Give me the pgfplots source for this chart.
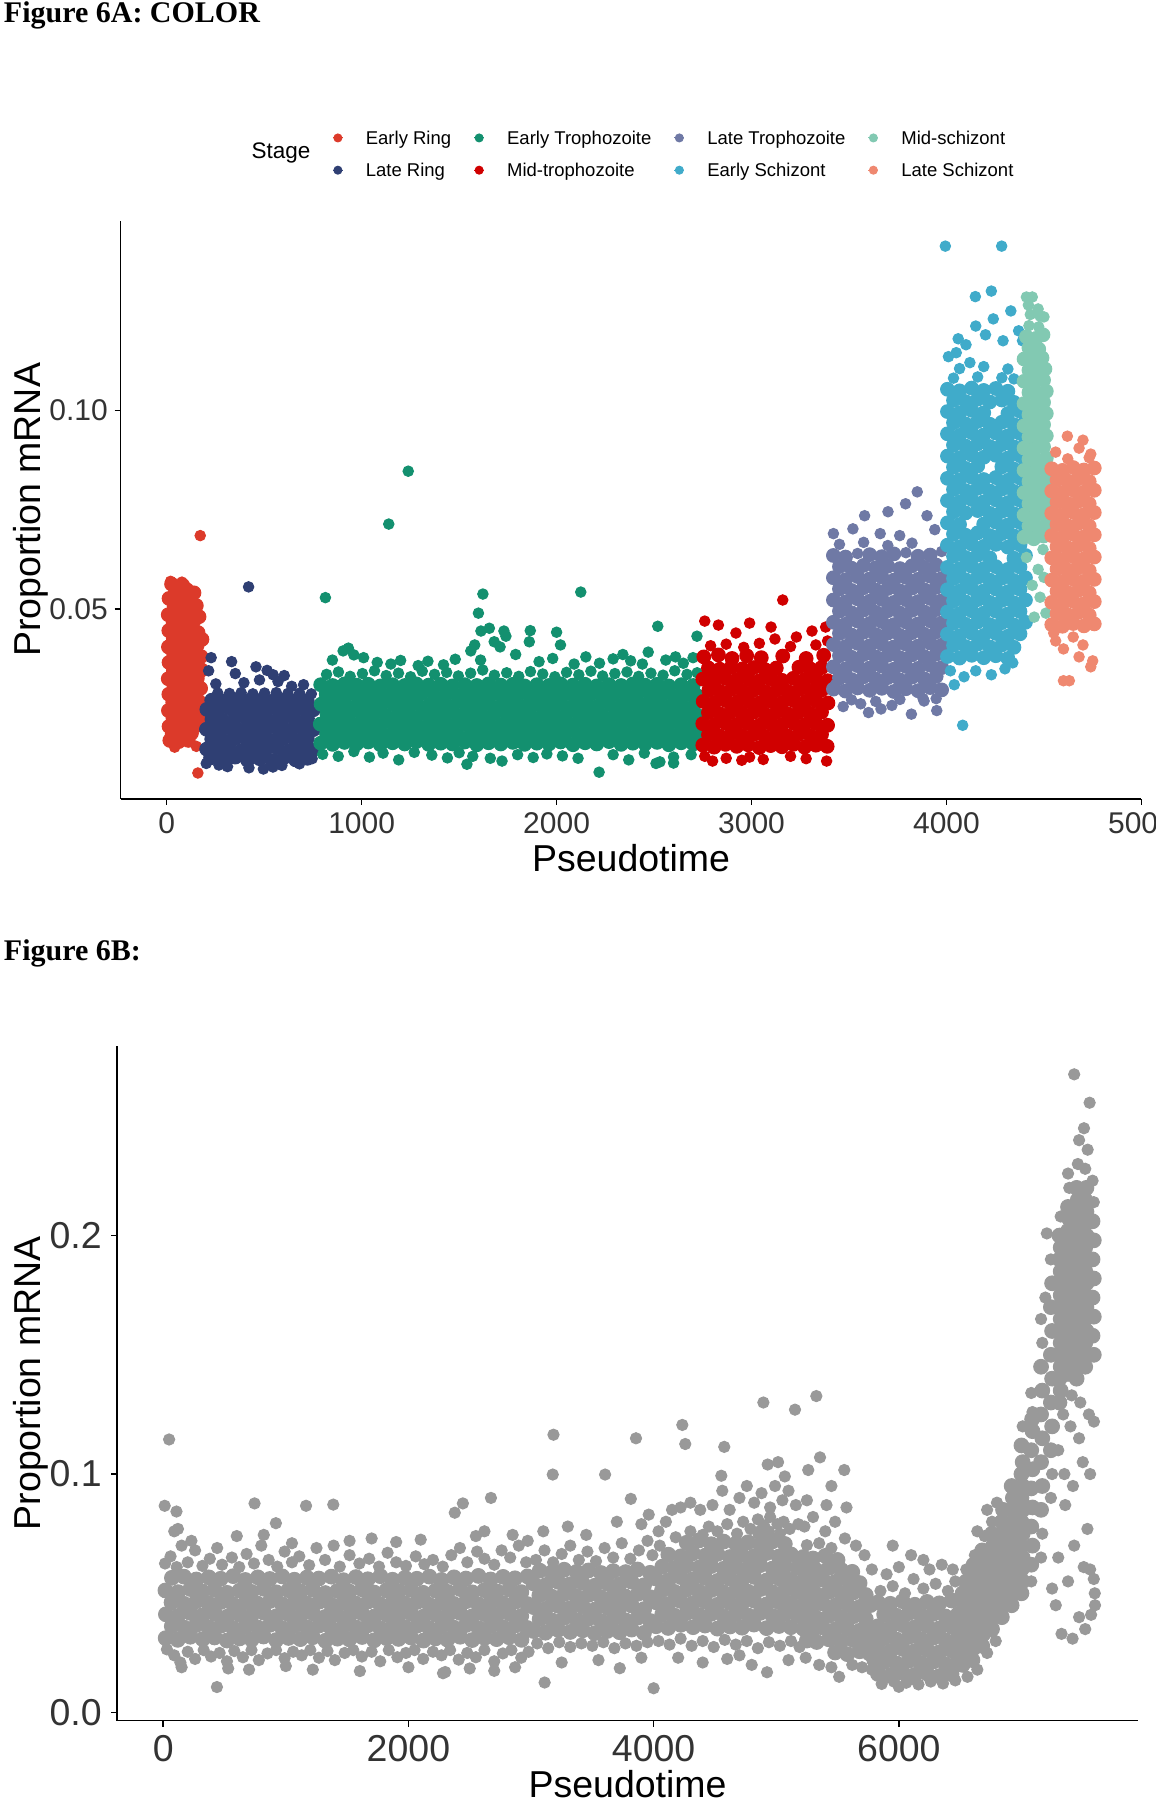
\documentclass[border=0pt]{standalone}
\usepackage{pgfplots}
\pgfplotsset{compat=1.18}
\usepackage{fontspec}
\setmainfont{Liberation Sans}
\newfontfamily\titlefont{Liberation Serif}
\definecolor{ER}{HTML}{DC3A2A}
\definecolor{LR}{HTML}{2F3F73}
\definecolor{ET}{HTML}{13906F}
\definecolor{MT}{HTML}{D00000}
\definecolor{LT}{HTML}{6F79A5}
\definecolor{ES}{HTML}{40ABCA}
\definecolor{MS}{HTML}{82C9B2}
\definecolor{LS}{HTML}{EF8870}
\definecolor{GR}{HTML}{999999}
\pgfplotsset{
  pt/.style={only marks, mark=*, mark size=2.1pt, color=#1, mark options={draw=none, fill=#1}, forget plot},
  core/.style={only marks, mark=*, mark size=2.75pt, color=#1, mark options={draw=none, fill=#1}, forget plot},
  ptb/.style={only marks, mark=*, mark size=2.25pt, color=#1, mark options={draw=none, fill=#1}, forget plot},
  coreb/.style={only marks, mark=*, mark size=2.95pt, color=#1, mark options={draw=none, fill=#1}, forget plot},
  ggaxis/.style={scale only axis, axis lines=left, axis line style={-, line width=0.6pt, black},
    tick style={black, line width=0.6pt}, tick align=outside, major tick length=2.4pt,
    xtick pos=bottom, ytick pos=left, clip=false,
    label style={font=\fontsize{15}{18}\selectfont}},
}
\begin{document}
\begin{tikzpicture}
\useasboundingbox (0,0) rectangle (462.3pt,720.36pt);
\clip (0,0) rectangle (462.3pt,720.36pt);
\node[anchor=base west, inner sep=0pt, font=\titlefont\bfseries\fontsize{12}{14}\selectfont] at (1.4pt,711.2pt) {Figure 6A: COLOR};
\node[anchor=base west, inner sep=0pt, font=\titlefont\bfseries\fontsize{12}{14}\selectfont] at (1.4pt,335.8pt) {Figure 6B:};
\node[anchor=center, inner sep=0pt, font=\fontsize{9}{11}\selectfont] at (112.5pt,659.2pt) {Stage};

\begin{axis}[ggaxis, at={(48.3pt,400.66pt)}, anchor=south west, width=408.5pt, height=231.38pt,
  xmin=-236, xmax=5000, ymin=0.0023, ymax=0.1477,
  xtick={0,1000,2000,3000,4000,5000}, xticklabels={0,1000,2000,3000,4000,5000},
  ytick={0.05,0.10}, yticklabels={0.05,0.10},
  ticklabel style={font=\fontsize{12}{14}\selectfont, text=black!80},
  xticklabel style={inner sep=2.8pt}, yticklabel style={inner sep=2.6pt},
  xlabel={Pseudotime}, ylabel={Proportion mRNA},
  xlabel style={at={(axis description cs:0.5,-0.125)}, anchor=base},
  ylabel style={at={(axis description cs:-0.0788,0.5)}, anchor=base},
  legend columns=4, legend cell align=left,
  legend image code/.code={\fill[#1] (0pt,0pt) circle (1.6pt); \path (-2pt,0pt) -- (2pt,0pt);},
  legend style={at={(0.541,1.1152)}, anchor=center, draw=none, fill=none, inner sep=0pt,
    font=\fontsize{7.4}{9}\selectfont, row sep=7.5pt,
    nodes={inner sep=0pt, text height=5.4pt, text depth=0pt},
    /tikz/every odd column/.append style={column sep=9pt},
    /tikz/every even column/.append style={column sep=9pt}},
]
\addlegendimage{color=ER}\addlegendentry{Early Ring}
\addlegendimage{color=ET}\addlegendentry{Early Trophozoite}
\addlegendimage{color=LT}\addlegendentry{Late Trophozoite}
\addlegendimage{color=MS}\addlegendentry{Mid-schizont}
\addlegendimage{color=LR}\addlegendentry{Late Ring}
\addlegendimage{color=MT}\addlegendentry{Mid-trophozoite}
\addlegendimage{color=ES}\addlegendentry{Early Schizont}
\addlegendimage{color=LS}\addlegendentry{Late Schizont}

% Early Ring
\addplot[core=ER] coordinates {
(25,.0563)(82,.0560)(48,.0546)(103,.0549)(140,.0541)(12,.0527)(66,.0523)(121,.0530)
(38,.0506)(92,.0503)(152,.0509)(8,.0486)(58,.0484)(113,.0489)(166,.0481)
(33,.0466)(87,.0463)(137,.0468)(11,.0446)(62,.0443)(108,.0448)(161,.0441)
(34,.0426)(86,.0422)(133,.0428)(181,.0424)(9,.0405)(61,.0407)(112,.0402)(156,.0409)
(36,.0386)(84,.0383)(131,.0388)(176,.0381)(12,.0366)(59,.0362)(108,.0368)(154,.0364)
(34,.0345)(86,.0348)(129,.0342)(179,.0347)(8,.0325)(61,.0328)(104,.0322)(157,.0326)
(37,.0306)(81,.0303)(131,.0308)(174,.0301)(11,.0286)(56,.0283)(106,.0288)(151,.0284)
(31,.0266)(79,.0262)(126,.0268)(176,.0264)(9,.0245)(57,.0248)(101,.0242)(149,.0247)
(32,.0226)(74,.0222)(124,.0228)(169,.0223)(12,.0205)(54,.0208)(101,.0202)(146,.0206)
(28,.0186)(81,.0183)(127,.0188)(16,.0170)(62,.0167)(111,.0170)
};
\addplot[pt=ER] coordinates {(41,.0153)(152,.0155)(172,.0685)(160,.0088)(20,.0570)(78,.0568)};
% Late Ring
\addplot[core=LR] coordinates {
(225,.0126)(290,.0122)(352,.0128)(415,.0120)(477,.0124)(540,.0119)(602,.0127)(661,.0121)(722,.0125)
(205,.0148)(262,.0145)(321,.0150)(382,.0144)(446,.0149)(506,.0146)(566,.0151)(630,.0143)(691,.0148)(750,.0146)
(231,.0173)(292,.0170)(351,.0175)(411,.0171)(476,.0174)(536,.0169)(597,.0173)(661,.0170)(721,.0175)
(204,.0198)(266,.0195)(326,.0200)(386,.0196)(447,.0199)(507,.0194)(571,.0198)(631,.0195)(692,.0200)(752,.0197)
(232,.0223)(291,.0220)(352,.0225)(416,.0221)(476,.0224)(537,.0219)(596,.0223)(661,.0220)(722,.0225)
(206,.0248)(266,.0245)(327,.0250)(387,.0246)(446,.0249)(506,.0244)(571,.0248)(632,.0245)(691,.0250)(752,.0247)
(231,.0271)(291,.0268)(352,.0272)(412,.0269)(477,.0270)(537,.0268)(601,.0271)(661,.0269)(721,.0270)
};
\addplot[pt=LR] coordinates {
(262,.0289)(322,.0288)(382,.0290)(442,.0287)(502,.0289)(562,.0290)(622,.0288)(682,.0289)(742,.0287)
(215,.0345)(228,.0378)(252,.0312)(333,.0368)(352,.0338)(396,.0315)(420,.0556)(458,.0355)(476,.0322)
(515,.0346)(546,.0335)(571,.0318)(603,.0333)(641,.0306)(702,.0310)(312,.0104)(422,.0101)(496,.0098)
(591,.0107)(681,.0111)(746,.0124)(203,.0112)(268,.0108)(545,.0103)
};
% Early Trophozoite
\addplot[core=ET] coordinates {
(790,.0163)(851,.0160)(912,.0165)(974,.0161)(1034,.0166)(1096,.0159)(1159,.0164)(1221,.0161)(1281,.0167)(1344,.0160)(1406,.0163)(1466,.0161)(1529,.0166)(1591,.0159)(1651,.0164)(1714,.0161)(1776,.0165)(1836,.0160)(1899,.0163)(1961,.0161)(2021,.0166)(2084,.0159)(2146,.0164)(2206,.0161)(2269,.0167)(2331,.0160)(2391,.0163)(2454,.0161)(2516,.0165)(2576,.0159)(2639,.0164)(2701,.0161)
(820,.0186)(881,.0183)(941,.0188)(1004,.0184)(1066,.0187)(1126,.0182)(1189,.0186)(1251,.0183)(1311,.0188)(1374,.0184)(1436,.0187)(1496,.0182)(1559,.0186)(1621,.0183)(1681,.0188)(1744,.0184)(1806,.0187)(1866,.0182)(1929,.0186)(1991,.0183)(2051,.0188)(2114,.0184)(2176,.0187)(2236,.0182)(2299,.0186)(2361,.0183)(2421,.0188)(2484,.0184)(2546,.0187)(2606,.0182)(2669,.0186)(2721,.0183)
(788,.0211)(849,.0208)(910,.0213)(972,.0209)(1032,.0212)(1094,.0207)(1157,.0211)(1219,.0208)(1279,.0213)(1342,.0209)(1404,.0212)(1464,.0207)(1527,.0211)(1589,.0208)(1649,.0213)(1712,.0209)(1774,.0212)(1834,.0207)(1897,.0211)(1959,.0208)(2019,.0213)(2082,.0209)(2144,.0212)(2204,.0207)(2267,.0211)(2329,.0208)(2389,.0213)(2452,.0209)(2514,.0212)(2574,.0207)(2637,.0211)(2699,.0208)
(822,.0236)(883,.0233)(943,.0238)(1006,.0234)(1068,.0237)(1128,.0232)(1191,.0236)(1253,.0233)(1313,.0238)(1376,.0234)(1438,.0237)(1498,.0232)(1561,.0236)(1623,.0233)(1683,.0238)(1746,.0234)(1808,.0237)(1868,.0232)(1931,.0236)(1993,.0233)(2053,.0238)(2116,.0234)(2178,.0237)(2238,.0232)(2301,.0236)(2363,.0233)(2423,.0238)(2486,.0234)(2548,.0237)(2608,.0232)(2671,.0236)(2723,.0233)
(792,.0261)(853,.0258)(914,.0263)(976,.0259)(1036,.0262)(1098,.0257)(1161,.0261)(1223,.0258)(1283,.0263)(1346,.0259)(1408,.0262)(1468,.0257)(1531,.0261)(1593,.0258)(1653,.0263)(1716,.0259)(1778,.0262)(1838,.0257)(1901,.0261)(1963,.0258)(2023,.0263)(2086,.0259)(2148,.0262)(2208,.0257)(2271,.0261)(2333,.0258)(2393,.0263)(2456,.0259)(2518,.0262)(2578,.0257)(2641,.0261)(2703,.0258)
(818,.0286)(879,.0283)(939,.0288)(1002,.0284)(1064,.0287)(1124,.0282)(1187,.0286)(1249,.0283)(1309,.0288)(1372,.0284)(1434,.0287)(1494,.0282)(1557,.0286)(1619,.0283)(1679,.0288)(1742,.0284)(1804,.0287)(1864,.0282)(1927,.0286)(1989,.0283)(2049,.0288)(2112,.0284)(2174,.0287)(2234,.0282)(2297,.0286)(2359,.0283)(2419,.0288)(2482,.0284)(2544,.0287)(2604,.0282)(2667,.0286)(2719,.0283)
(790,.0310)(851,.0308)(912,.0312)(974,.0309)(1034,.0311)(1096,.0307)(1159,.0310)(1221,.0308)(1281,.0312)(1344,.0309)(1406,.0311)(1466,.0307)(1529,.0310)(1591,.0308)(1651,.0312)(1714,.0309)(1776,.0311)(1836,.0307)(1899,.0310)(1961,.0308)(2021,.0312)(2084,.0309)(2146,.0311)(2206,.0307)(2269,.0310)(2331,.0308)(2391,.0312)(2454,.0309)(2516,.0311)(2576,.0307)(2639,.0310)(2701,.0308)
};
\addplot[pt=ET] coordinates {
(820,.0336)(881,.0342)(941,.0331)(1004,.0338)(1066,.0345)(1126,.0333)(1189,.0339)(1251,.0330)(1311,.0344)(1374,.0336)(1436,.0341)(1496,.0332)(1559,.0339)(1621,.0347)(1681,.0334)(1744,.0340)(1806,.0331)(1866,.0343)(1929,.0337)(1991,.0330)(2051,.0341)(2114,.0335)(2176,.0344)(2236,.0332)(2299,.0338)(2361,.0342)(2421,.0331)(2484,.0339)(2546,.0334)(2606,.0345)(2669,.0336)(2721,.0340)
(850,.0372)(905,.0395)(932,.0402)(960,.0385)(1010,.0378)(1080,.0366)(1150,.0362)(1200,.0371)(1290,.0358)(1340,.0369)(1420,.0360)(1480,.0374)(1560,.0395)(1580,.0410)(1610,.0372)(1680,.0418)(1710,.0405)(1740,.0432)(1790,.0386)(1860,.0418)(1910,.0368)(1980,.0376)(2020,.0410)(2090,.0362)(2150,.0380)(2220,.0364)(2290,.0375)(2340,.0386)(2380,.0370)(2440,.0362)(2470,.0392)(2519,.0457)(2560,.0372)(2610,.0380)(2650,.0364)(2700,.0378)(2720,.0432)
(1139,.0714)(1239,.0847)(814,.0529)(1622,.0538)(2124,.0543)(1599,.0490)(1612,.0445)(1655,.0452)(1730,.0445)(1865,.0446)(2000,.0442)
(800,.0135)(880,.0130)(960,.0142)(1040,.0128)(1110,.0138)(1190,.0121)(1270,.0140)(1360,.0133)(1440,.0126)(1500,.0139)(1570,.0130)(1660,.0125)(1720,.0118)(1800,.0134)(1880,.0127)(1950,.0136)(2030,.0131)(2110,.0125)(2218,.0090)(2290,.0134)(2370,.0121)(2450,.0138)(2530,.0116)(2600,.0128)(2690,.0134)(2510,.0112)(2600,.0113)(1540,.0110)
};
% Mid-trophozoite
\addplot[core=MT] coordinates {
(2750,.0158)(2808,.0153)(2866,.0160)(2924,.0155)(2982,.0159)(3040,.0152)(3098,.0157)(3156,.0154)(3214,.0160)(3272,.0153)(3330,.0158)(3388,.0155)
(2779,.0184)(2837,.0181)(2895,.0186)(2953,.0182)(3011,.0185)(3069,.0180)(3127,.0184)(3185,.0181)(3243,.0186)(3301,.0182)(3359,.0185)
(2750,.0212)(2808,.0209)(2866,.0214)(2924,.0210)(2982,.0213)(3040,.0208)(3098,.0212)(3156,.0209)(3214,.0214)(3272,.0210)(3330,.0213)(3390,.0208)
(2779,.0240)(2837,.0237)(2895,.0242)(2953,.0238)(3011,.0241)(3069,.0236)(3127,.0240)(3185,.0237)(3243,.0242)(3301,.0238)(3359,.0241)
(2752,.0268)(2810,.0265)(2868,.0270)(2926,.0266)(2984,.0269)(3042,.0264)(3100,.0268)(3158,.0265)(3216,.0270)(3274,.0266)(3332,.0269)(3392,.0264)
(2781,.0296)(2839,.0293)(2897,.0298)(2955,.0294)(3013,.0297)(3071,.0292)(3129,.0296)(3187,.0293)(3245,.0298)(3303,.0294)(3361,.0297)
(2750,.0324)(2808,.0321)(2866,.0326)(2924,.0322)(2982,.0325)(3040,.0320)(3098,.0324)(3156,.0321)(3214,.0326)(3272,.0322)(3330,.0325)(3390,.0320)
(2779,.0352)(2837,.0349)(2895,.0354)(2953,.0350)(3011,.0353)(3069,.0348)(3127,.0352)(3243,.0354)(3301,.0350)(3359,.0353)
(2755,.0380)(2830,.0385)(2900,.0376)(2975,.0383)(3050,.0378)(3160,.0382)(3280,.0376)(3370,.0384)
};
\addplot[pt=MT] coordinates {
(2790,.0408)(2870,.0412)(2960,.0404)(3040,.0414)(3200,.0406)(3330,.0410)(3390,.0420)
(2760,.0470)(2830,.0460)(2920,.0440)(2990,.0465)(3100,.0455)(3160,.0523)(3230,.0430)(3310,.0445)(3380,.0455)(3120,.0425)
(2760,.0130)(2800,.0118)(2870,.0125)(2990,.0128)(3060,.0122)(3200,.0130)(3280,.0124)(3385,.0118)(2950,.0120)
};
% Late Trophozoite
\addplot[core=LT] coordinates {
(3420,.0299)(3482,.0294)(3544,.0302)(3606,.0296)(3668,.0301)(3730,.0293)(3792,.0300)(3854,.0295)(3916,.0303)(3975,.0297)
(3451,.0327)(3513,.0323)(3575,.0330)(3637,.0324)(3699,.0328)(3761,.0322)(3823,.0329)(3885,.0325)(3947,.0331)
(3420,.0355)(3482,.0350)(3544,.0358)(3606,.0352)(3668,.0357)(3730,.0349)(3792,.0356)(3854,.0351)(3916,.0359)(3975,.0353)
(3451,.0383)(3513,.0379)(3575,.0386)(3637,.0380)(3699,.0384)(3761,.0378)(3823,.0385)(3885,.0381)(3947,.0387)
(3420,.0411)(3482,.0406)(3544,.0414)(3606,.0408)(3668,.0413)(3730,.0405)(3792,.0412)(3854,.0407)(3916,.0415)(3975,.0409)
(3451,.0439)(3513,.0435)(3575,.0442)(3637,.0436)(3699,.0440)(3761,.0434)(3823,.0441)(3885,.0437)(3947,.0443)
(3420,.0467)(3482,.0462)(3544,.0470)(3606,.0464)(3668,.0469)(3730,.0461)(3792,.0468)(3854,.0463)(3916,.0471)(3975,.0465)
(3451,.0495)(3513,.0491)(3575,.0498)(3637,.0492)(3699,.0496)(3761,.0490)(3823,.0497)(3885,.0493)(3947,.0499)
(3420,.0523)(3482,.0518)(3544,.0526)(3606,.0520)(3668,.0525)(3730,.0517)(3792,.0524)(3854,.0519)(3916,.0527)(3975,.0521)
(3451,.0551)(3513,.0547)(3575,.0554)(3637,.0548)(3699,.0552)(3761,.0546)(3823,.0553)(3885,.0549)(3947,.0555)
(3420,.0579)(3482,.0574)(3544,.0582)(3606,.0576)(3668,.0581)(3730,.0573)(3792,.0580)(3854,.0575)(3916,.0583)(3975,.0577)
(3451,.0607)(3513,.0603)(3575,.0610)(3637,.0604)(3699,.0608)(3761,.0602)(3823,.0609)(3885,.0605)(3947,.0611)
(3420,.0635)(3482,.0631)(3606,.0637)(3668,.0632)(3730,.0639)(3854,.0633)(3916,.0636)
};
\addplot[pt=LT] coordinates {
(3513,.0272)(3637,.0268)(3761,.0273)(3885,.0269)(3947,.0275)
(3451,.0663)(3575,.0668)(3699,.0660)(3823,.0666)(3544,.0640)(3792,.0642)(3975,.0645)
(3420,.0690)(3520,.0702)(3580,.0735)(3700,.0745)(3660,.0690)(3790,.0765)(3850,.0795)(3900,.0735)(3940,.0700)(3760,.0685)
(3430,.0310)(3470,.0255)(3560,.0262)(3664,.0249)(3720,.0258)(3820,.0236)(3880,.0275)(3950,.0245)(3960,.0300)(3600,.0240)
};
% Early Schizont
\addplot[core=ES] coordinates {
(4005,.0381)(4067,.0377)(4129,.0384)(4191,.0378)(4253,.0383)(4315,.0376)
(4036,.0409)(4098,.0406)(4160,.0412)(4222,.0405)(4284,.0410)(4346,.0404)
(4005,.0437)(4067,.0433)(4129,.0440)(4191,.0434)(4253,.0439)(4315,.0432)(4377,.0438)
(4036,.0465)(4098,.0462)(4160,.0468)(4222,.0461)(4284,.0466)(4346,.0460)(4405,.0467)
(4005,.0493)(4067,.0489)(4129,.0496)(4191,.0490)(4253,.0495)(4315,.0488)(4377,.0494)
(4036,.0521)(4098,.0518)(4160,.0524)(4222,.0517)(4284,.0522)(4346,.0516)(4405,.0523)
(4005,.0549)(4067,.0545)(4129,.0552)(4191,.0546)(4253,.0551)(4315,.0544)(4377,.0550)
(4036,.0577)(4098,.0574)(4160,.0580)(4222,.0573)(4284,.0578)(4346,.0572)(4405,.0579)
(4005,.0605)(4067,.0601)(4129,.0608)(4191,.0602)(4253,.0607)(4315,.0600)(4377,.0606)
(4036,.0633)(4098,.0630)(4160,.0636)(4222,.0629)(4346,.0628)(4405,.0635)
(4005,.0661)(4067,.0657)(4129,.0664)(4191,.0658)(4253,.0663)(4315,.0656)(4377,.0662)
(4036,.0689)(4098,.0686)(4160,.0692)(4222,.0685)(4284,.0690)(4346,.0684)(4405,.0691)
(4005,.0717)(4067,.0713)(4191,.0714)(4253,.0719)(4315,.0712)(4377,.0718)
(4036,.0745)(4098,.0742)(4160,.0748)(4222,.0741)(4284,.0746)(4346,.0740)(4405,.0747)
(4005,.0773)(4067,.0769)(4129,.0776)(4191,.0770)(4253,.0775)(4315,.0768)(4377,.0774)
(4036,.0801)(4098,.0798)(4160,.0804)(4222,.0797)(4284,.0802)(4346,.0796)(4405,.0803)
(4005,.0829)(4067,.0825)(4129,.0832)(4191,.0826)(4253,.0831)(4315,.0824)(4377,.0830)
(4036,.0857)(4098,.0854)(4160,.0860)(4284,.0858)(4346,.0852)(4405,.0859)
(4005,.0885)(4067,.0881)(4129,.0888)(4191,.0882)(4253,.0887)(4315,.0880)(4377,.0886)
(4036,.0913)(4098,.0910)(4160,.0916)(4222,.0909)(4284,.0914)(4346,.0908)(4405,.0915)
(4005,.0941)(4067,.0937)(4129,.0944)(4191,.0938)(4253,.0943)(4315,.0936)(4377,.0942)
(4036,.0969)(4098,.0966)(4160,.0972)(4222,.0965)(4284,.0970)(4346,.0964)(4405,.0971)
(4005,.0997)(4067,.0993)(4129,.1000)(4191,.0994)(4315,.0992)(4377,.0998)
(4036,.1025)(4098,.1022)(4160,.1028)(4222,.1021)(4284,.1026)(4346,.1020)
(4005,.1053)(4067,.1049)(4129,.1056)(4191,.1050)(4253,.1055)(4315,.1048)
};
\addplot[pt=ES] coordinates {
(4036,.1081)(4160,.1084)(4284,.1082)(4346,.1079)(4067,.1105)(4191,.1110)(4315,.1104)
(4010,.1135)(4060,.1180)(4100,.1165)(4150,.1212)(4200,.1190)(4240,.1230)(4290,.1175)(4330,.1250)(4370,.1200)(4148,.1286)(4230,.1300)(4050,.1145)(4390,.1175)(4120,.1120)
(3994,.1413)(4283,.1413)(4083,.0208)
(4020,.0345)(4090,.0330)(4150,.0345)(4230,.0335)(4300,.0350)(4340,.0365)(4040,.0310)
};
% Mid-schizont
\addplot[core=MS] coordinates {
(4398,.0681)(4448,.0677)(4498,.0684)(4423,.0709)(4473,.0706)(4512,.0712)
(4398,.0737)(4448,.0733)(4498,.0740)(4423,.0765)(4473,.0762)(4512,.0768)
(4398,.0793)(4448,.0789)(4498,.0796)(4423,.0821)(4473,.0818)(4512,.0824)
(4398,.0849)(4448,.0845)(4498,.0852)(4423,.0877)(4473,.0874)(4512,.0880)
(4398,.0905)(4448,.0901)(4498,.0908)(4423,.0933)(4473,.0930)(4512,.0936)
(4398,.0961)(4448,.0957)(4498,.0964)(4423,.0989)(4473,.0986)(4512,.0992)
(4398,.1017)(4448,.1013)(4498,.1020)(4423,.1045)(4473,.1042)(4512,.1048)
(4398,.1073)(4448,.1069)(4498,.1076)(4423,.1101)(4473,.1098)(4505,.1104)
(4398,.1129)(4448,.1125)(4490,.1132)(4423,.1157)(4473,.1154)
(4410,.1185)(4460,.1181)(4495,.1190)
};
\addplot[pt=MS] coordinates {
(4423,.1213)(4473,.1210)(4430,.1241)(4480,.1237)
(4470,.0600)(4500,.0580)(4440,.0560)(4480,.0530)(4450,.0480)(4510,.0490)(4410,.0630)(4495,.0650)
(4410,.1285)(4440,.1285)(4470,.1255)(4500,.1235)(4420,.1265)
};
% Late Schizont
\addplot[core=LS] coordinates {
(4540,.0461)(4595,.0457)(4650,.0464)(4705,.0458)(4758,.0463)(4567,.0489)(4622,.0486)(4677,.0492)(4732,.0485)
(4540,.0517)(4595,.0513)(4650,.0520)(4705,.0514)(4758,.0519)(4567,.0545)(4622,.0542)(4677,.0548)(4732,.0541)
(4540,.0573)(4595,.0569)(4650,.0576)(4705,.0570)(4758,.0575)(4567,.0601)(4622,.0598)(4677,.0604)(4732,.0597)
(4540,.0629)(4595,.0625)(4650,.0632)(4705,.0626)(4758,.0631)(4567,.0657)(4622,.0654)(4677,.0660)(4732,.0653)
(4540,.0685)(4595,.0681)(4650,.0688)(4705,.0682)(4758,.0687)(4567,.0713)(4622,.0710)(4677,.0716)(4732,.0709)
(4540,.0741)(4595,.0737)(4650,.0744)(4705,.0738)(4758,.0743)(4567,.0769)(4622,.0766)(4677,.0772)(4732,.0765)
(4540,.0797)(4595,.0793)(4650,.0800)(4705,.0794)(4758,.0799)(4567,.0825)(4622,.0822)(4677,.0828)(4732,.0821)
(4540,.0853)(4595,.0849)(4650,.0856)(4705,.0850)(4758,.0855)
};
\addplot[pt=LS] coordinates {
(4622,.0878)(4732,.0881)
(4620,.0935)(4680,.0905)(4560,.0895)(4740,.0890)(4700,.0925)
(4560,.0420)(4600,.0400)(4700,.0410)(4750,.0370)(4740,.0355)(4600,.0320)(4630,.0320)(4680,.0380)(4550,.0440)(4650,.0430)
};
\end{axis}

\begin{axis}[ggaxis, at={(46.92pt,31.74pt)}, anchor=south west, width=408.48pt, height=270.02pt,
  xmin=-375, xmax=7950, ymin=-0.0034, ymax=0.2795,
  xtick={0,2000,4000,6000}, xticklabels={0,2000,4000,6000},
  ytick={0,0.1,0.2}, yticklabels={0.0,0.1,0.2},
  ticklabel style={font=\fontsize{15}{18}\selectfont, text=black!80},
  xticklabel style={inner sep=3.2pt}, yticklabel style={inner sep=3.6pt},
  xlabel={Pseudotime}, ylabel={Proportion mRNA},
  xlabel style={at={(axis description cs:0.5,-0.1141)}, anchor=base},
  ylabel style={at={(axis description cs:-0.0755,0.5)}, anchor=base},
]
% dense core
\addplot[coreb=GR] coordinates {
(20,.0312)(118,.0305)(221,.0318)(322,.0308)(419,.0315)(520,.0302)(623,.0311)(721,.0306)(818,.0319)(921,.0304)(1022,.0313)(1119,.0308)(1220,.0316)(1323,.0301)(1421,.0310)(1518,.0307)(1622,.0317)(1720,.0303)(1821,.0312)(1919,.0309)(2020,.0315)(2123,.0302)(2221,.0311)(2318,.0306)(2422,.0318)(2520,.0304)(2621,.0313)(2719,.0308)(2820,.0316)(2922,.0305)
(70,.0362)(172,.0356)(269,.0367)(371,.0358)(470,.0364)(572,.0353)(669,.0361)(771,.0357)(870,.0368)(972,.0354)(1069,.0363)(1171,.0358)(1270,.0365)(1372,.0352)(1469,.0360)(1571,.0357)(1670,.0366)(1772,.0353)(1869,.0362)(1971,.0358)(2070,.0364)(2172,.0352)(2269,.0361)(2371,.0356)(2470,.0367)(2572,.0354)(2669,.0363)(2771,.0358)(2870,.0365)(2968,.0355)
(22,.0412)(120,.0405)(219,.0418)(320,.0408)(421,.0415)(522,.0402)(621,.0411)(719,.0406)(820,.0419)(923,.0404)(1020,.0413)(1121,.0408)(1222,.0416)(1321,.0401)(1419,.0410)(1520,.0407)(1620,.0417)(1722,.0403)(1819,.0412)(1921,.0409)(2022,.0415)(2121,.0402)(2219,.0411)(2320,.0406)(2420,.0418)(2522,.0404)(2619,.0413)(2721,.0408)(2822,.0416)(2920,.0405)
(68,.0462)(170,.0456)(271,.0467)(369,.0458)(472,.0464)(570,.0453)(671,.0461)(769,.0457)(872,.0468)(970,.0454)(1071,.0463)(1169,.0458)(1272,.0465)(1370,.0452)(1471,.0460)(1569,.0457)(1672,.0466)(1770,.0453)(1871,.0462)(1969,.0458)(2072,.0464)(2170,.0452)(2271,.0461)(2369,.0456)(2472,.0467)(2570,.0454)(2671,.0463)(2769,.0458)(2872,.0465)(2970,.0455)
(18,.0512)(121,.0505)(222,.0518)(319,.0508)(418,.0515)(521,.0502)(622,.0511)(720,.0506)(819,.0519)(922,.0504)(1021,.0513)(1120,.0508)(1219,.0516)(1322,.0501)(1420,.0510)(1519,.0507)(1621,.0517)(1721,.0503)(1820,.0512)(1922,.0509)(2021,.0515)(2120,.0502)(2222,.0511)(2321,.0506)(2421,.0518)(2521,.0504)(2620,.0513)(2722,.0508)(2821,.0516)(2921,.0505)
(71,.0565)(169,.0570)(270,.0558)(372,.0567)(469,.0561)(571,.0572)(670,.0556)(772,.0567)(869,.0560)(971,.0571)(1070,.0557)(1172,.0566)(1269,.0562)(1371,.0570)(1470,.0555)(1572,.0568)(1669,.0559)(1771,.0572)(1870,.0557)(1972,.0565)(2069,.0561)(2171,.0570)(2270,.0556)(2372,.0567)(2469,.0562)(2571,.0573)(2670,.0558)(2772,.0569)(2869,.0563)(2971,.0571)
(3020,.0342)(3118,.0335)(3221,.0347)(3320,.0338)(3422,.0345)(3519,.0333)(3621,.0342)(3722,.0337)(3820,.0348)(3921,.0334)
(3070,.0392)(3172,.0386)(3269,.0397)(3371,.0388)(3470,.0394)(3572,.0383)(3669,.0391)(3771,.0387)(3870,.0398)(3972,.0384)
(3022,.0442)(3120,.0435)(3219,.0448)(3320,.0438)(3421,.0445)(3522,.0432)(3621,.0441)(3719,.0436)(3820,.0449)(3923,.0434)
(3068,.0492)(3170,.0486)(3271,.0497)(3369,.0488)(3472,.0494)(3570,.0483)(3671,.0491)(3769,.0487)(3872,.0498)(3970,.0484)
(3018,.0542)(3121,.0535)(3222,.0548)(3319,.0538)(3418,.0545)(3521,.0532)(3622,.0541)(3720,.0536)(3819,.0549)(3922,.0534)
(3071,.0595)(3169,.0588)(3270,.0599)(3372,.0590)(3469,.0596)(3571,.0585)(3670,.0593)(3772,.0589)(3869,.0600)(3971,.0586)
(4020,.0362)(4118,.0355)(4221,.0368)(4322,.0358)(4419,.0365)(4520,.0352)(4623,.0361)(4721,.0356)(4818,.0369)(4921,.0354)(5022,.0363)(5119,.0358)
(4070,.0412)(4172,.0406)(4269,.0417)(4371,.0408)(4470,.0414)(4572,.0403)(4669,.0411)(4771,.0407)(4870,.0418)(4972,.0404)(5069,.0413)(5171,.0408)
(4022,.0462)(4120,.0455)(4219,.0468)(4320,.0458)(4421,.0465)(4522,.0452)(4621,.0461)(4719,.0456)(4820,.0469)(4923,.0454)(5020,.0463)(5121,.0458)
(4068,.0512)(4170,.0506)(4271,.0517)(4369,.0508)(4472,.0514)(4570,.0503)(4671,.0511)(4769,.0507)(4872,.0518)(4970,.0504)(5071,.0513)(5169,.0508)
(4018,.0562)(4121,.0555)(4222,.0568)(4319,.0558)(4418,.0565)(4521,.0552)(4622,.0561)(4720,.0556)(4819,.0569)(4922,.0554)(5021,.0563)(5120,.0558)
(4071,.0612)(4169,.0606)(4270,.0617)(4372,.0608)(4469,.0614)(4571,.0603)(4670,.0611)(4772,.0607)(4869,.0618)(4971,.0604)(5070,.0613)(5172,.0608)
(4120,.0662)(4222,.0655)(4320,.0668)(4421,.0658)(4520,.0665)(4622,.0652)(4720,.0661)(4820,.0656)(4921,.0669)(5020,.0654)(5121,.0663)
(4270,.0712)(4470,.0706)(4571,.0717)(4670,.0708)(4770,.0714)(4872,.0703)(4970,.0718)(5070,.0707)(4372,.0722)(4870,.0752)
(5480,.0252)(5580,.0245)(5680,.0257)(5760,.0248)
(5250,.0302)(5330,.0296)(5430,.0307)(5530,.0298)(5630,.0304)(5730,.0293)
(5220,.0352)(5300,.0346)(5380,.0357)(5480,.0348)(5580,.0354)(5680,.0343)(5770,.0351)
(5250,.0402)(5330,.0396)(5430,.0407)(5530,.0398)(5630,.0404)(5730,.0393)
(5220,.0452)(5300,.0446)(5380,.0457)(5480,.0448)(5580,.0454)(5680,.0443)(5770,.0451)
(5250,.0502)(5330,.0496)(5430,.0507)(5530,.0498)(5630,.0504)(5730,.0493)
(5220,.0552)(5300,.0546)(5380,.0557)(5480,.0548)(5580,.0554)(5680,.0543)
(5250,.0602)(5330,.0596)(5430,.0607)(5530,.0598)(5620,.0590)
(5220,.0652)(5300,.0646)(5400,.0657)(5500,.0640)
(5830,.0162)(5930,.0155)(6030,.0167)(6130,.0158)(6230,.0164)(6330,.0153)(6430,.0161)
(5880,.0212)(5980,.0206)(6080,.0217)(6180,.0208)(6280,.0214)(6380,.0203)(6480,.0211)(5800,.0220)
(5830,.0262)(5930,.0256)(6030,.0267)(6130,.0258)(6230,.0264)(6330,.0253)(6430,.0261)
(5880,.0312)(5980,.0306)(6080,.0317)(6180,.0308)(6280,.0314)(6380,.0303)(6480,.0311)(5800,.0300)
(5830,.0362)(5930,.0356)(6030,.0367)(6130,.0358)(6230,.0364)(6330,.0353)(6430,.0361)
(5880,.0412)(5980,.0406)(6080,.0417)(6180,.0408)(6280,.0414)(6380,.0403)(6480,.0411)
(5830,.0462)(5930,.0456)(6030,.0467)(6130,.0452)(6230,.0464)(6330,.0458)(6430,.0470)
(6520,.0200)(6530,.0250)(6520,.0300)(6530,.0350)(6520,.0400)(6530,.0450)(6520,.0500)(6550,.0550)
(6600,.0220)(6610,.0270)(6600,.0320)(6610,.0370)(6600,.0420)(6610,.0470)(6600,.0520)(6620,.0570)(6610,.0620)
(6680,.0280)(6690,.0330)(6680,.0380)(6690,.0430)(6680,.0480)(6690,.0530)(6680,.0580)(6690,.0630)(6680,.0680)
(6760,.0350)(6770,.0400)(6760,.0450)(6770,.0500)(6760,.0550)(6770,.0600)(6760,.0650)(6770,.0700)(6760,.0750)
(6840,.0400)(6850,.0450)(6840,.0500)(6850,.0550)(6840,.0600)(6850,.0650)(6840,.0700)(6850,.0750)(6840,.0800)(6850,.0850)
(6920,.0450)(6930,.0500)(6920,.0550)(6930,.0600)(6920,.0650)(6930,.0700)(6920,.0750)(6930,.0800)(6920,.0850)(6930,.0900)(6920,.0950)
(7000,.0500)(7010,.0550)(7000,.0600)(7010,.0650)(7000,.0700)(7010,.0750)(7000,.0800)(7010,.0850)(7000,.0900)(7010,.0950)(7000,.1000)(7010,.1050)(7000,.1120)
(7080,.0620)(7090,.0700)(7080,.0780)(7090,.0860)(7080,.0940)(7090,.1020)(7080,.1100)(7090,.1180)(7087,.1230)
(7160,.0850)(7170,.0950)(7160,.1050)(7170,.1150)(7160,.1250)(7170,.1350)(7160,.1450)
(7240,.1100)(7250,.1200)(7240,.1300)(7250,.1400)(7240,.1500)(7250,.1600)(7240,.1700)(7250,.1800)
(7310,.1300)(7320,.1350)(7310,.1400)(7320,.1450)(7310,.1500)(7320,.1550)(7310,.1600)(7320,.1650)(7310,.1700)(7320,.1750)(7310,.1800)(7320,.1850)(7310,.1900)(7320,.1950)(7310,.2000)
(7380,.1420)(7390,.1470)(7380,.1520)(7390,.1570)(7380,.1620)(7390,.1670)(7380,.1720)(7390,.1770)(7380,.1820)(7390,.1870)(7380,.1920)(7390,.1970)(7380,.2020)(7390,.2070)(7380,.2120)
(7450,.1400)(7460,.1450)(7450,.1500)(7460,.1550)(7450,.1600)(7460,.1650)(7450,.1700)(7460,.1750)(7450,.1800)(7460,.1850)(7450,.1900)(7460,.1950)(7450,.2000)(7460,.2050)(7450,.2100)(7460,.2150)(7450,.2200)
(7520,.1450)(7530,.1500)(7520,.1550)(7530,.1600)(7520,.1650)(7530,.1700)(7520,.1750)(7530,.1800)(7520,.1850)(7530,.1900)(7520,.1950)(7530,.2000)(7520,.2050)(7530,.2100)(7520,.2150)(7530,.2200)
(7590,.1500)(7580,.1580)(7590,.1660)(7580,.1740)(7590,.1820)(7580,.1900)(7590,.1980)(7580,.2060)
};
% scattered points
\addplot[ptb=GR] coordinates {
(15,.0625)(60,.0655)(110,.0610)(150,.0700)(200,.0630)(260,.0680)(320,.0615)(380,.0645)(440,.0690)(480,.0620)(560,.0650)(620,.0610)(680,.0665)(740,.0625)(800,.0700)(860,.0640)(930,.0612)(990,.0675)(1050,.0630)(1110,.0655)(1190,.0618)(1250,.0690)(1320,.0640)(1390,.0700)(1440,.0612)(1520,.0660)(1600,.0625)(1680,.0645)(1760,.0612)(1830,.0670)(1900,.0630)(1980,.0615)(2060,.0655)(2130,.0622)(2200,.0640)(2280,.0612)(2350,.0660)(2420,.0690)(2480,.0630)(2560,.0675)(2620,.0645)(2700,.0620)(2760,.0680)(2830,.0650)(2900,.0700)(2960,.0630)
(30,.0265)(90,.0240)(140,.0210)(200,.0255)(260,.0225)(330,.0262)(390,.0235)(460,.0250)(520,.0215)(580,.0258)(650,.0232)(720,.0262)(780,.0220)(850,.0248)(920,.0262)(990,.0228)(1060,.0255)(1130,.0240)(1200,.0262)(1270,.0230)(1340,.0258)(1400,.0220)(1480,.0250)(1550,.0262)(1620,.0235)(1700,.0255)(1770,.0215)(1840,.0262)(1910,.0232)(1980,.0250)(2050,.0262)(2120,.0225)(2200,.0255)(2270,.0240)(2340,.0262)(2410,.0222)(2480,.0250)(2550,.0232)(2620,.0262)(2700,.0215)(2770,.0248)(2840,.0262)(2920,.0230)(2980,.0255)
(48,.1145)(12,.0867)(108,.0843)(745,.0877)(919,.0794)(1165,.0867)(1387,.0872)(438,.0107)(1520,.0720)(2378,.0838)(2444,.0877)(2673,.0900)(2973,.0720)(1604,.0174)(2282,.0165)(120,.0770)(90,.0760)(230,.0720)(600,.0740)(820,.0745)(1050,.0710)(1700,.0730)(1900,.0715)(2100,.0725)(2550,.0740)(2620,.0760)(2850,.0745)(150,.0190)(530,.0185)(700,.0180)(1000,.0195)(1220,.0180)(2000,.0190)(2300,.0170)(2500,.0185)(2700,.0175)(2870,.0190)
(3040,.0640)(3110,.0680)(3180,.0630)(3250,.0665)(3320,.0700)(3390,.0640)(3460,.0675)(3530,.0635)(3600,.0690)(3670,.0650)(3740,.0710)(3810,.0645)(3880,.0680)(3950,.0720)(3990,.0660)
(3050,.0290)(3140,.0270)(3230,.0295)(3320,.0275)(3410,.0290)(3500,.0280)(3590,.0295)(3680,.0270)(3770,.0290)(3860,.0280)(3950,.0295)
(3183,.1165)(3177,.0998)(3604,.0998)(3856,.1150)(3814,.0896)(3111,.0126)(3724,.0186)(3100,.0760)(3300,.0780)(3450,.0745)(3700,.0800)(3900,.0790)(3960,.0830)(3550,.0220)(3250,.0210)(3900,.0230)
(4050,.0700)(4180,.0735)(4300,.0760)(4400,.0745)(4450,.0780)(4520,.0760)(4600,.0790)(4680,.0750)(4730,.0800)(4790,.0770)(4850,.0810)(4900,.0785)(4950,.0820)(5010,.0790)(5060,.0800)(5110,.0770)(5180,.0790)(4940,.0760)(5030,.0750)
(4100,.0800)(4150,.0850)(4220,.0860)(4300,.0880)(4380,.0850)(4480,.0870)(4560,.0930)(4620,.0850)(4700,.0900)(4760,.0950)(4820,.0880)(4880,.0920)(4950,.0860)(4990,.0950)(5050,.0890)(5100,.0930)(5160,.0870)(4040,.0760)
(4040,.0300)(4130,.0285)(4220,.0310)(4310,.0280)(4400,.0300)(4490,.0275)(4580,.0305)(4670,.0285)(4760,.0300)(4850,.0270)(4940,.0295)(5030,.0280)(5120,.0300)(5190,.0275)
(4234,.1206)(4258,.1126)(4576,.1114)(4552,.0993)(4895,.1300)(5153,.1270)(5015,.1050)(4000,.0102)(4925,.0169)(4200,.0230)(4400,.0210)(4600,.0225)(4800,.0200)(5100,.0220)(4700,.0240)(5070,.0990)(4930,.1040)
(5250,.0702)(5350,.0710)(5450,.0690)
(5261,.1017)(5357,.1070)(5327,.1327)(5555,.1017)(5573,.0860)(5513,.0150)(5230,.0780)(5300,.0820)(5400,.0760)(5480,.0800)(5560,.0730)(5650,.0700)(5720,.0660)(5780,.0600)(5240,.0230)(5350,.0200)(5450,.0190)(5620,.0200)(5700,.0190)(5780,.0180)(5250,.0890)(5450,.0950)(5410,.0870)
(5850,.0510)(5950,.0530)(6050,.0500)(6120,.0560)(6200,.0520)(6300,.0540)(6400,.0510)(6460,.0550)(5900,.0580)(6000,.0610)(6250,.0600)(6350,.0620)(6440,.0600)
(5860,.0120)(5960,.0130)(6000,.0108)(6060,.0125)(6160,.0118)(6260,.0130)(6360,.0122)(6460,.0135)(6100,.0140)
(5950,.0700)(6100,.0660)(6200,.0640)
(6550,.0600)(6620,.0660)(6700,.0740)(6720,.0850)(6760,.0800)(6800,.0880)(6640,.0760)(6560,.0150)(6640,.0180)(6720,.0250)(6790,.0300)
(7080,.0550)(7010,.1200)(7080,.1340)(7090,.1260)(7160,.0650)(7170,.0750)(7170,.1550)(7160,.1650)(7195,.1740)(7207,.2009)
(7240,.0900)(7250,.1000)(7240,.1900)(7320,.2080)(7390,.2200)(7380,.2260)(7460,.2300)(7430,.2676)(7470,.2400)
(7520,.2280)(7540,.2360)(7556,.2557)(7510,.2450)(7590,.2140)(7580,.2230)
(7300,.1100)(7350,.1000)(7400,.1200)(7420,.0950)(7470,.1150)(7500,.1050)(7550,.1250)(7591,.1220)(7560,.1000)(7340,.1250)(7480,.1300)(7410,.1330)
(7327,.0330)(7417,.0310)(7568,.0410)(7598,.0500)(7508,.0610)(7538,.0770)(7357,.0870)(7590,.0560)(7470,.0400)(7380,.0550)(7300,.0650)(7430,.0700)(7560,.0600)(7600,.0450)(7250,.0520)(7280,.0450)(7520,.0350)
};
\end{axis}
\end{tikzpicture}
\end{document}
